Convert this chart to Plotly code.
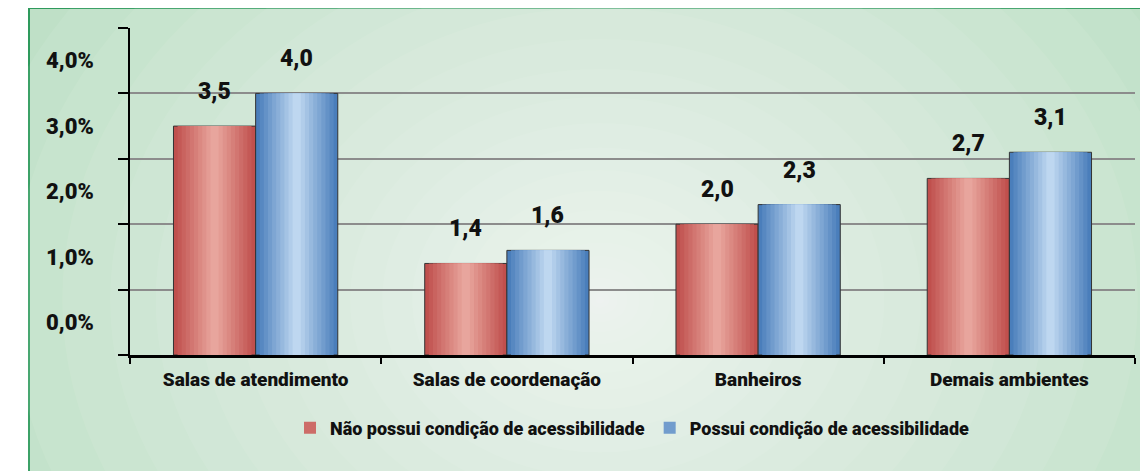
import plotly.graph_objects as go

# dados
categorias = ["Salas de atendimento", "Salas de coordenação", "Banheiros", "Demais ambientes"]
nao_possui = [3.5, 1.4, 2.0, 2.7]
possui = [4.0, 1.6, 2.3, 3.1]
serie_nomes = ["Não possui condição de acessibilidade", "Possui condição de acessibilidade"]
y_ticks = [0.5, 1.5, 2.5, 3.5, 4.5]
y_labels = ["0,0%", "1,0%", "2,0%", "3,0%", "4,0%"]
y_grid = [0, 1, 2, 3, 4, 5]

FONT = "Roboto, Liberation Sans, sans-serif"
PESO = 900

# a página desloca a figura 8 px (margem do body)
OFF = 8
L, R, T, B = 130 - OFF, 1135 - OFF, 28 - OFF, 355 - OFF


def px_x(p):
    return (p - OFF - L) / (R - L)


def px_y(p):
    return (B - (p - OFF)) / (B - T)


def mix(c1, c2, t):
    return "rgb(%d,%d,%d)" % tuple(round(a + (b - a) * t) for a, b in zip(c1, c2))


W = 0.327   # largura de cada barra (unidade de categoria)
N = 10      # faixas do degradê

series = [
    (nao_possui, serie_nomes[0], (192, 80, 77), (232, 165, 157), -1),
    (possui, serie_nomes[1], (74, 126, 187), (190, 215, 240), 1),
]

fig = go.Figure()

for vals, nome, c_borda, c_centro, lado in series:
    centro = lado * W / 2
    for k in range(N):
        w = W * (1 - k / N)
        fig.add_trace(go.Bar(
            x=categorias, y=vals,
            width=w, offset=centro - w / 2,
            marker=dict(color=mix(c_borda, c_centro, k / (N - 1)),
                        line=dict(color="#333333", width=1 if k == 0 else 0)),
            name=nome, showlegend=(k == 3), legendgroup=nome,
            hoverinfo="skip",
        ))
    # rótulos de valor
    for c, v in zip(categorias, vals):
        fig.add_annotation(
            x=c, y=v, xref="x", yref="y",
            text=f"{v:.1f}".replace(".", ","),
            showarrow=False, yanchor="bottom",
            xshift=lado * 41, yshift=19,
            font=dict(family=FONT, size=23, color="#111111", weight=PESO),
        )

# fundo: moldura verde com degradê claro ao centro
shapes = [dict(
    type="rect", xref="paper", yref="paper", layer="below",
    x0=px_x(29), x1=px_x(1170), y0=px_y(490), y1=px_y(8),
    fillcolor="#bfe0c7", line=dict(color="#2e9a5c", width=2),
)]
cx, cy, rx, ry = 600, 300, 640, 520
NE = 24
for k in range(1, NE + 1):
    f = (k / NE) ** 2
    shapes.append(dict(
        type="circle", xref="paper", yref="paper", layer="below",
        x0=px_x(cx - rx * f), x1=px_x(cx + rx * f),
        y0=px_y(cy + ry * f), y1=px_y(cy - ry * f),
        fillcolor="white", opacity=0.07, line=dict(width=0),
    ))

fig.update_layout(
    width=1148, height=471,
    margin=dict(l=L, r=1148 - R, t=T, b=471 - B),
    barmode="overlay",
    paper_bgcolor="white",
    plot_bgcolor="rgba(0,0,0,0)",
    shapes=shapes,
    font=dict(family=FONT, color="#111111", weight=PESO),
    legend=dict(
        orientation="h", x=0.5, xanchor="center", y=px_y(428), yanchor="middle",
        font=dict(family=FONT, size=18, color="#111111", weight=PESO),
        bgcolor="rgba(0,0,0,0)",
    ),
    xaxis=dict(
        showline=True, linecolor="black", linewidth=3,
        ticks="outside", tickson="boundaries", ticklen=6, tickcolor="black", tickwidth=1.5,
        ticklabelstandoff=5,
        tickfont=dict(family=FONT, size=19, color="#111111", weight=PESO),
        showgrid=False,
    ),
    yaxis=dict(
        range=[0, 5], showline=True, linecolor="black", linewidth=1.5,
        tickmode="array", tickvals=y_ticks, ticktext=y_labels,
        ticks="", showgrid=False, zeroline=False,
        ticklabelstandoff=30,
        tickfont=dict(family=FONT, size=22, color="#111111", weight=PESO),
        minor=dict(tickmode="array", tickvals=y_grid, ticks="outside", ticklen=10,
                   tickcolor="black", tickwidth=1.5,
                   showgrid=True, gridcolor="#8c8c8c", gridwidth=1.5),
    ),
)

fig.write_html("out.html")
